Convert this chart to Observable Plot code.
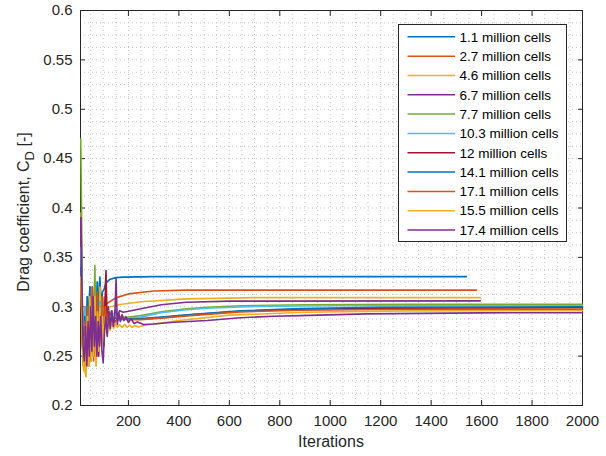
<!DOCTYPE html>
<html><head><meta charset="utf-8">
<script src="https://cdn.jsdelivr.net/npm/d3@7"></script>
<script src="https://cdn.jsdelivr.net/npm/@observablehq/plot@0.6"></script>
<style>
body{margin:0;background:#fff;}
#wrap{position:relative;width:606px;height:456px;}
</style></head><body><div id="wrap"></div>
<script>
const labels = ["1.1 million cells","2.7 million cells","4.6 million cells","6.7 million cells","7.7 million cells","10.3 million cells","12 million cells","14.1 million cells","17.1 million cells","15.5 million cells","17.4 million cells"];
const colors = ["#0072BD","#D95319","#EDB120","#7E2F8E","#77AC30","#4DBEEE","#A2142F","#0072BD","#D95319","#EDB120","#7E2F8E"];

// [iteration, drag coefficient]
const s1 = [[12,0.355],[17,0.29],[22,0.27],[27,0.30],[32,0.265],[37,0.31],[42,0.27],[47,0.32],[52,0.28],[57,0.30],[62,0.26],[67,0.31],[72,0.285],[77,0.325],[82,0.29],[87,0.33],[92,0.30],[97,0.315],[104,0.318],[110,0.324],[125,0.3275],[150,0.3295],[180,0.330],[300,0.3305],[1540,0.3305]];
const s2 = [[12,0.34],[17,0.27],[22,0.245],[27,0.29],[32,0.25],[37,0.30],[42,0.24],[47,0.32],[52,0.26],[57,0.31],[62,0.25],[67,0.315],[72,0.27],[77,0.30],[82,0.26],[87,0.32],[92,0.28],[97,0.31],[102,0.29],[107,0.30],[113,0.303],[150,0.309],[200,0.313],[300,0.316],[430,0.3168],[1580,0.3168]];
const s3 = [[12,0.395],[17,0.30],[22,0.25],[27,0.235],[32,0.229],[37,0.30],[42,0.245],[47,0.315],[52,0.25],[57,0.32],[62,0.26],[67,0.30],[72,0.24],[77,0.29],[82,0.26],[87,0.32],[92,0.27],[97,0.30],[102,0.275],[108,0.30],[114,0.285],[121,0.2995],[160,0.302],[249,0.305],[430,0.308],[700,0.3092],[1595,0.3092]];
const s4 = [[12,0.39],[17,0.28],[22,0.25],[27,0.30],[32,0.245],[37,0.29],[42,0.255],[47,0.31],[52,0.26],[57,0.32],[62,0.265],[67,0.30],[72,0.255],[77,0.29],[82,0.27],[87,0.305],[92,0.275],[97,0.30],[102,0.28],[108,0.31],[114,0.285],[120,0.30],[126,0.288],[133,0.296],[140,0.289],[148,0.297],[156,0.291],[165,0.296],[180,0.2945],[250,0.298],[330,0.302],[430,0.3046],[600,0.3057],[1595,0.306]];
const s5 = [[11,0.47],[14,0.40],[17,0.31],[22,0.26],[27,0.30],[32,0.255],[37,0.29],[42,0.26],[47,0.31],[52,0.27],[57,0.30],[62,0.28],[67,0.342],[72,0.27],[77,0.31],[82,0.265],[87,0.30],[92,0.28],[97,0.31],[102,0.285],[108,0.30],[114,0.288],[120,0.296],[128,0.287],[136,0.293],[145,0.288],[160,0.29],[193,0.2894],[249,0.291],[330,0.295],[430,0.2979],[512,0.2995],[644,0.301],[900,0.302],[1300,0.3025],[2000,0.3025]];
const s6 = [[12,0.36],[17,0.29],[22,0.26],[27,0.30],[32,0.265],[37,0.31],[42,0.27],[47,0.30],[52,0.26],[57,0.295],[62,0.27],[67,0.31],[72,0.275],[77,0.30],[82,0.27],[87,0.305],[92,0.28],[97,0.30],[102,0.285],[108,0.297],[114,0.286],[120,0.294],[130,0.289],[140,0.292],[160,0.289],[193,0.288],[249,0.2895],[330,0.294],[430,0.297],[512,0.2985],[700,0.3003],[1000,0.301],[2000,0.301]];
const s7 = [[12,0.33],[17,0.27],[22,0.24],[27,0.28],[32,0.24],[37,0.30],[42,0.25],[47,0.31],[52,0.245],[57,0.30],[62,0.25],[67,0.29],[72,0.26],[77,0.31],[82,0.25],[87,0.30],[92,0.27],[97,0.29],[102,0.26],[107,0.30],[111,0.3366],[116,0.28],[122,0.295],[128,0.283],[136,0.29],[145,0.285],[160,0.288],[190,0.2875],[249,0.2875],[330,0.289],[446,0.2918],[644,0.2954],[881,0.2975],[1200,0.2985],[2000,0.299]];
const s8 = [[12,0.34],[17,0.28],[22,0.25],[27,0.29],[32,0.255],[37,0.31],[42,0.26],[47,0.32],[52,0.27],[57,0.31],[62,0.265],[67,0.30],[72,0.28],[77,0.325],[82,0.275],[87,0.30],[92,0.27],[97,0.295],[102,0.28],[108,0.29],[114,0.283],[122,0.291],[130,0.284],[140,0.289],[160,0.287],[200,0.2875],[249,0.288],[330,0.2895],[446,0.292],[644,0.2958],[881,0.2982],[1200,0.2995],[2000,0.300]];
const s9 = [[12,0.32],[17,0.26],[22,0.24],[27,0.285],[32,0.245],[37,0.30],[42,0.24],[47,0.31],[52,0.25],[57,0.32],[62,0.245],[67,0.30],[72,0.26],[77,0.315],[82,0.255],[87,0.30],[92,0.265],[97,0.31],[102,0.27],[108,0.30],[114,0.278],[120,0.293],[128,0.282],[136,0.29],[145,0.284],[160,0.288],[200,0.287],[249,0.287],[330,0.2885],[446,0.291],[644,0.2948],[881,0.2965],[1200,0.2972],[2000,0.2975]];
const s10 = [[12,0.33],[17,0.27],[22,0.235],[27,0.27],[32,0.23],[37,0.29],[42,0.24],[47,0.31],[52,0.245],[57,0.30],[62,0.25],[67,0.31],[72,0.24],[77,0.295],[82,0.255],[87,0.30],[92,0.26],[97,0.29],[102,0.265],[108,0.29],[114,0.272],[120,0.285],[127,0.276],[134,0.284],[141,0.278],[148,0.283],[156,0.279],[165,0.282],[175,0.279],[185,0.282],[195,0.279],[205,0.2815],[215,0.279],[225,0.281],[240,0.2795],[260,0.281],[400,0.286],[600,0.2915],[900,0.2945],[1300,0.2958],[2000,0.296]];
const s11 = [[12,0.39],[15,0.33],[20,0.26],[25,0.245],[30,0.28],[35,0.24],[40,0.285],[45,0.25],[50,0.30],[55,0.255],[60,0.31],[65,0.26],[70,0.29],[75,0.25],[80,0.285],[85,0.26],[90,0.29],[95,0.255],[100,0.243],[105,0.275],[110,0.29],[116,0.27],[122,0.293],[128,0.278],[134,0.296],[140,0.28],[146,0.29],[151,0.3285],[156,0.282],[162,0.294],[168,0.285],[175,0.292],[182,0.286],[190,0.29],[200,0.284],[210,0.288],[222,0.283],[235,0.2845],[260,0.282],[300,0.2825],[380,0.2843],[512,0.286],[644,0.2888],[776,0.2904],[881,0.291],[1145,0.2928],[1592,0.2938],[2000,0.294]];

const xTicks = [200,400,600,800,1000,1200,1400,1600,1800,2000];
const yTicks = [0.2,0.25,0.3,0.35,0.4,0.45,0.5,0.55,0.6];
const xDomain = [10,2000];
const yDomain = [0.2,0.6];

const series = [s1,s2,s3,s4,s5,s6,s7,s8,s9,s10,s11];
const rows = series.flatMap((s,k)=>s.map(([it,v])=>({it,v,k})));
const xMinor = d3.range(50,2001,50);
const yMinor = d3.range(0,33).map(i=>0.2+i*0.0125);

const font = '"Liberation Sans", Arial, Helvetica, sans-serif';
const ink = "#262626";
const gridOpts = {stroke:"#c4c4c4", strokeOpacity:1, strokeDasharray:"1,3", strokeWidth:1};

const chart = Plot.plot({
  width:606, height:456,
  marginLeft:80, marginRight:24, marginTop:10, marginBottom:51,
  style:{fontFamily:font, color:ink, background:"#fff", overflow:"visible"},
  x:{domain:xDomain, label:null},
  y:{domain:yDomain, label:null},
  marks:[
    Plot.gridX(xMinor, gridOpts),
    Plot.gridY(yMinor, gridOpts),
    Plot.frame({stroke:ink, strokeWidth:1}),
    Plot.axisX(xTicks,{anchor:"bottom", tickSize:-5, tickPadding:15, fontSize:15, label:null, tickFormat:d=>String(d)}),
    Plot.axisX(xTicks,{anchor:"top", tickSize:-5, fill:"none", label:null}),
    Plot.axisY(yTicks,{anchor:"left", tickSize:-5, tickPadding:13, fontSize:15, label:null, tickFormat:d=>String(d)}),
    Plot.axisY(yTicks,{anchor:"right", tickSize:-5, fill:"none", label:null}),
    Plot.line(rows,{x:"it", y:"v", z:"k", stroke:d=>colors[d.k], strokeWidth:1.6})
  ]
});
document.getElementById("wrap").appendChild(chart);

const svg = d3.select(chart);
// axis titles
const yl = svg.append("text")
  .attr("transform","translate(29,212) rotate(-90)")
  .attr("text-anchor","middle")
  .attr("font-family",font).attr("font-size",16).attr("fill",ink);
yl.append("tspan").text("Drag coefficient, C");
yl.append("tspan").attr("dy",5).attr("font-size",13).text("D");
yl.append("tspan").attr("dy",-5).text(" [-]");
svg.append("text")
  .attr("x",331).attr("y",447)
  .attr("text-anchor","middle")
  .attr("font-family",font).attr("font-size",16).attr("fill",ink)
  .text("Iterations");

// legend
const lg = svg.append("g").attr("transform","translate(398.5,24.5)");
lg.append("rect").attr("width",168).attr("height",217).attr("fill","#fff").attr("stroke",ink).attr("stroke-width",1);
labels.forEach((lab,i)=>{
  const y = 12.3 + i*19.33;
  lg.append("line").attr("x1",9).attr("x2",56.5).attr("y1",y).attr("y2",y).attr("stroke",colors[i]).attr("stroke-width",1.5);
  lg.append("text").attr("x",61).attr("y",y).attr("dy","0.35em").attr("text-anchor","start")
    .attr("font-family",font).attr("font-size",13.5).attr("fill","#000").text(lab);
});
</script>
</body></html>
